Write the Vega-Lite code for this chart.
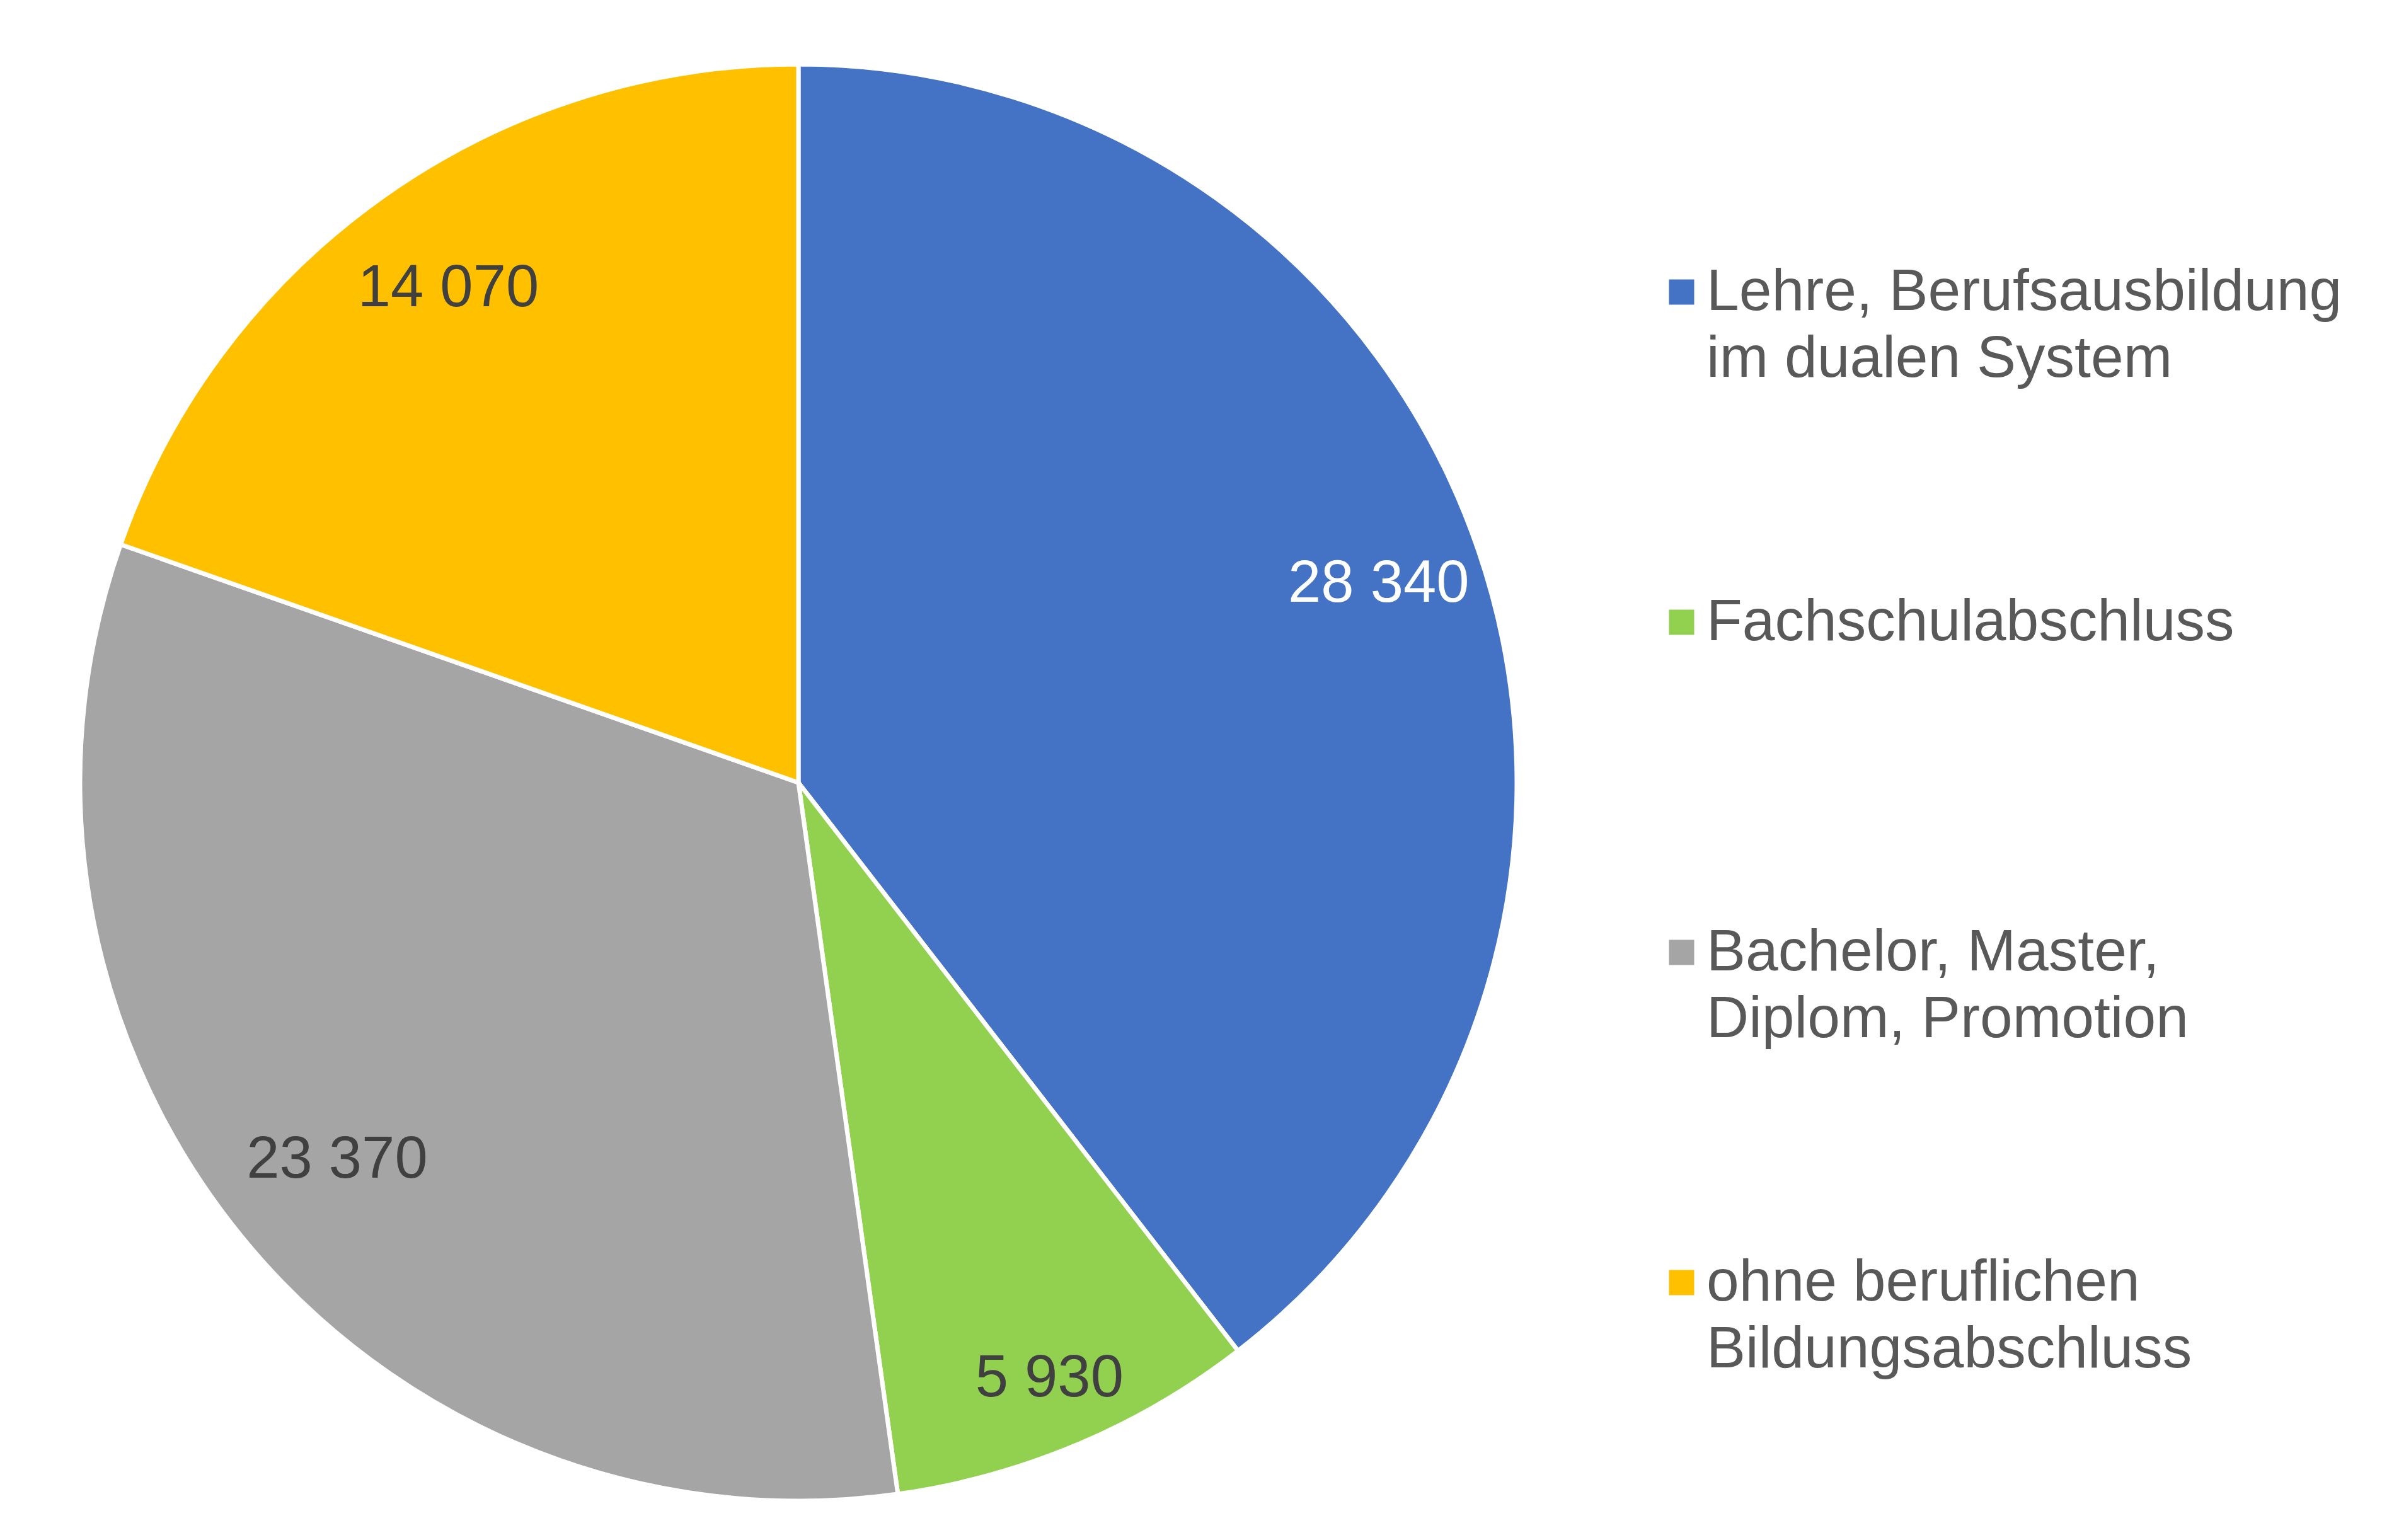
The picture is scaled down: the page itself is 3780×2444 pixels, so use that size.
{
  "$schema": "https://vega.github.io/schema/vega-lite/v6.json",
  "description": "Abschluss-Verteilung als Kreisdiagramm",
  "width": 2534,
  "height": 2484,
  "padding": 0,
  "background": "white",
  "config": {
    "view": {"stroke": null},
    "font": "Liberation Sans",
    "style": {"guide-label": {"lineHeight": 106}},
    "locale": {
      "number": {
        "decimal": ",",
        "thousands": " ",
        "grouping": [3],
        "currency": ["", " €"]
      }
    }
  },
  "data": {
    "values": [
      {"abschluss": "Lehre, Berufsausbildung\nim dualen System", "anzahl": 28340},
      {"abschluss": "Fachschulabschluss", "anzahl": 5930},
      {"abschluss": "Bachelor, Master,\nDiplom, Promotion", "anzahl": 23370},
      {"abschluss": "ohne beruflichen\nBildungsabschluss", "anzahl": 14070}
    ]
  },
  "transform": [
    {"window": [{"op": "row_number", "as": "nr"}]}
  ],
  "encoding": {
    "theta": {"field": "anzahl", "type": "quantitative", "stack": true},
    "order": {"field": "nr", "type": "quantitative"},
    "color": {
      "field": "abschluss",
      "type": "nominal",
      "scale": {
        "domain": [
          "Lehre, Berufsausbildung\nim dualen System",
          "Fachschulabschluss",
          "Bachelor, Master,\nDiplom, Promotion",
          "ohne beruflichen\nBildungsabschluss"
        ],
        "range": ["#4472C4", "#92D050", "#A5A5A5", "#FFC000"]
      },
      "legend": {
        "orient": "none",
        "legendX": 2622,
        "legendY": 417,
        "title": null,
        "padding": 0,
        "symbolType": "square",
        "symbolSize": 1600,
        "symbolStrokeWidth": 0,
        "symbolOpacity": 1,
        "labelFont": "Liberation Sans",
        "labelFontSize": 93,
        "labelColor": "#595959",
        "labelLimit": 2000,
        "labelOffset": -7,
        "labelExpr": "split(datum.label, '\\n')",
        "gridAlign": "all",
        "rowPadding": 324,
        "encode": {
          "labels": {
            "update": {
              "lineHeight": {"value": 106},
              "dy": {"signal": "indexof(datum.label, '\\n') >= 0 ? 57 : 3"}
            }
          }
        }
      }
    }
  },
  "layer": [
    {
      "mark": {
        "type": "arc",
        "outerRadius": 1140,
        "stroke": "white",
        "strokeWidth": 7
      }
    },
    {
      "mark": {
        "type": "text",
        "font": "Liberation Sans",
        "fontSize": 94,
        "align": "center",
        "baseline": "middle"
      },
      "encoding": {
        "radius": {
          "value": {"expr": "datum.nr === 1 ? 973 : datum.nr === 2 ? 1026 : datum.nr === 3 ? 946 : 961"}
        },
        "text": {"field": "anzahl", "type": "quantitative", "format": ",d"},
        "color": {
          "condition": {"test": "datum.nr === 1", "value": "white"},
          "value": "#404040"
        }
      }
    }
  ]
}
